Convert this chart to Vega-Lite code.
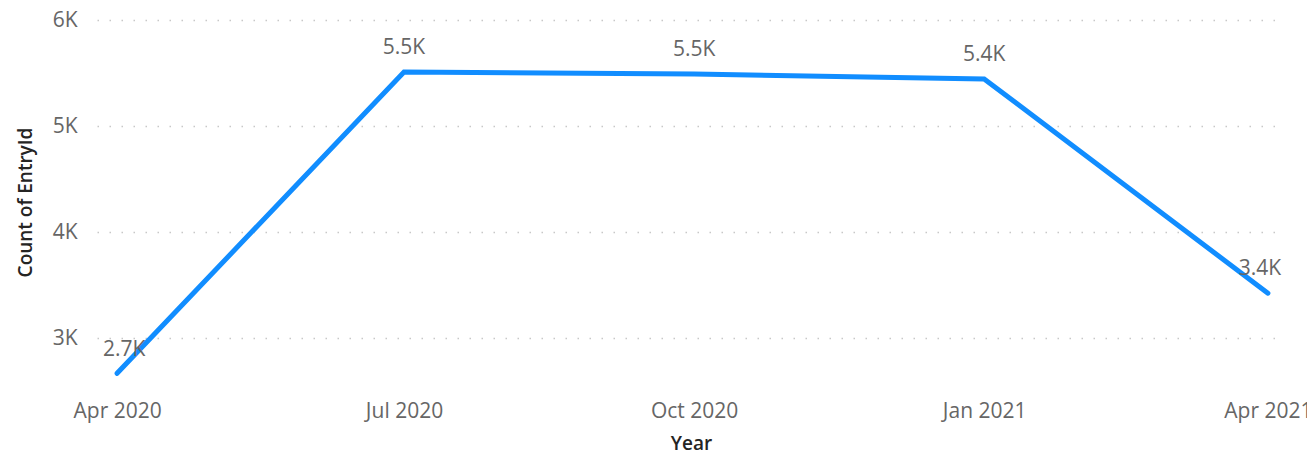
{
  "$schema": "https://vega.github.io/schema/vega-lite/v6.json",
  "width": 1188,
  "height": 365,
  "autosize": "none",
  "padding": {"left": 97, "top": 20, "right": 22, "bottom": 71},
  "background": "white",
  "config": {
    "view": {"stroke": null},
    "font": "Open Sans"
  },
  "data": {
    "values": [
      {"Year": "2020-04-01", "count": 2670},
      {"Year": "2020-07-01", "count": 5510},
      {"Year": "2020-10-01", "count": 5490},
      {"Year": "2021-01-01", "count": 5445},
      {"Year": "2021-04-01", "count": 3425}
    ]
  },
  "transform": [
    {"calculate": "replace(format(datum.count, '.2s'), 'k', 'K')", "as": "label"}
  ],
  "encoding": {
    "x": {
      "field": "Year",
      "type": "temporal",
      "scale": {
        "type": "utc",
        "domain": [
          {"year": 2020, "month": 3, "date": 25, "hours": 15, "utc": true},
          {"year": 2021, "month": 4, "date": 6, "hours": 10, "utc": true}
        ],
        "nice": false
      },
      "axis": {
        "title": "Year",
        "values": [
          {"year": 2020, "month": 4, "date": 1, "utc": true},
          {"year": 2020, "month": 7, "date": 1, "utc": true},
          {"year": 2020, "month": 10, "date": 1, "utc": true},
          {"year": 2021, "month": 1, "date": 1, "utc": true},
          {"year": 2021, "month": 4, "date": 1, "utc": true}
        ],
        "labelExpr": "utcFormat(datum.value, '%b %Y')",
        "grid": false,
        "domain": false,
        "ticks": false,
        "labelPadding": 15,
        "labelFontSize": 21,
        "labelColor": "#666666",
        "labelFlush": false,
        "labelOverlap": false,
        "titleFontSize": 19,
        "titleFontWeight": 600,
        "titleColor": "#252423",
        "titleY": 58,
        "titleBaseline": "middle"
      }
    },
    "y": {
      "field": "count",
      "type": "quantitative",
      "scale": {"domain": [2560, 6000], "nice": false, "zero": false},
      "axis": {
        "title": "Count of EntryId",
        "values": [3000, 4000, 5000, 6000],
        "labelExpr": "replace(format(datum.value, '~s'), 'k', 'K')",
        "domain": false,
        "ticks": false,
        "labelPadding": 20,
        "labelFontSize": 21,
        "labelColor": "#666666",
        "grid": true,
        "gridDash": [1.5, 10.5],
        "gridColor": "#c8c8c8",
        "gridWidth": 1.5,
        "titleFontSize": 19,
        "titleFontWeight": 600,
        "titleColor": "#252423",
        "titleX": -72,
        "titleY": 182,
        "titleAngle": -90,
        "titleAlign": "center",
        "titleBaseline": "middle"
      }
    }
  },
  "layer": [
    {
      "mark": {"type": "line", "color": "#118DFF", "strokeWidth": 5, "strokeCap": "round", "strokeJoin": "miter", "clip": false}
    },
    {
      "transform": [{"filter": "datum.label != '2.7K' && datum.label != '3.4K'"}],
      "mark": {"type": "text", "fontSize": 21, "color": "#666666", "dy": -24, "baseline": "middle"},
      "encoding": {"text": {"field": "label"}}
    },
    {
      "transform": [{"filter": "datum.label == '2.7K'"}],
      "mark": {"type": "text", "fontSize": 21, "color": "#666666", "dy": -23, "dx": 7, "baseline": "middle"},
      "encoding": {"text": {"field": "label"}}
    },
    {
      "transform": [{"filter": "datum.label == '3.4K'"}],
      "mark": {"type": "text", "fontSize": 21, "color": "#666666", "dy": -24, "dx": -8, "baseline": "middle"},
      "encoding": {"text": {"field": "label"}}
    }
  ]
}
